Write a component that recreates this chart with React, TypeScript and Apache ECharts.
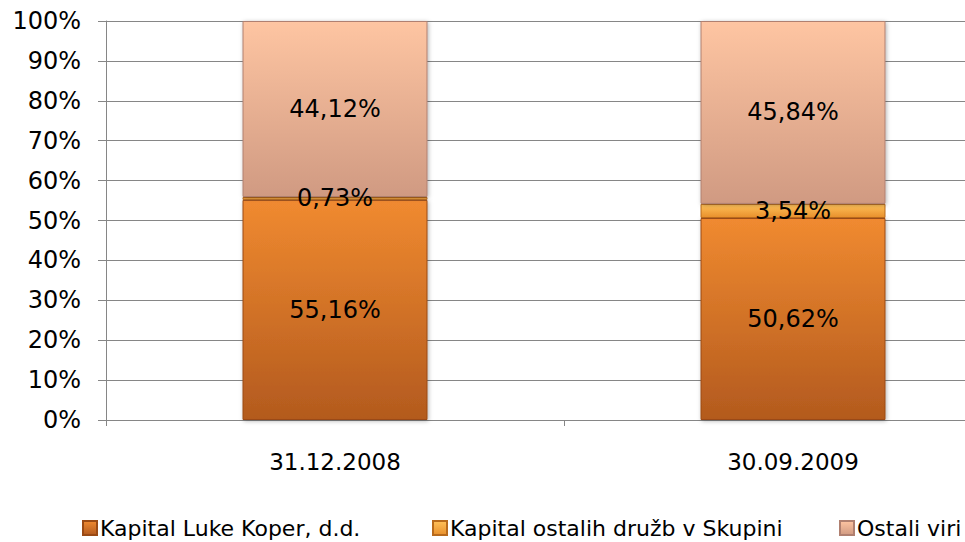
import React, { useEffect, useRef } from "react";
import * as echarts from "echarts";

const categories = ["31.12.2008", "30.09.2009"];
const seriesNames = ["Kapital Luke Koper, d.d.", "Kapital ostalih družb v Skupini", "Ostali viri"];
const lukaKoper = [55.16, 50.62];
const ostaleDruzbe = [0.73, 3.54];
const ostaliViri = [44.12, 45.84];
const yTicks = [0, 10, 20, 30, 40, 50, 60, 70, 80, 90, 100];
const legendLefts = [77, 427, 834];

const FONT = "DejaVu Sans";

function grad(top: string, bottom: string) {
  return new echarts.graphic.LinearGradient(0, 0, 0, 1, [
    { offset: 0, color: top },
    { offset: 1, color: bottom },
  ]);
}

export default function App() {
  const ref = useRef<HTMLDivElement>(null);
  useEffect(() => {
    if (!ref.current) return;
    const chart = echarts.init(ref.current, undefined, { renderer: "svg" });
    const label = {
      show: true,
      position: "inside" as const,
      color: "#000",
      fontFamily: FONT,
      fontSize: 24,
      formatter: (p: any) => p.value.toFixed(2).replace(".", ",") + "%",
    };
    chart.setOption({
      animation: false,
      backgroundColor: "#ffffff",
      grid: { left: 106, top: 21, bottom: 122, right: 0, containLabel: false },
      legend: seriesNames.map((n, i) => ({
        left: legendLefts[i],
        top: 512,
        itemWidth: 14,
        itemHeight: 14,
        icon: "rect",
        textStyle: { fontFamily: FONT, fontSize: 22, color: "#000", padding: [0, 0, 0, -2] },
        data: [n],
      })),
      xAxis: {
        type: "category",
        data: categories,
        axisLine: { lineStyle: { color: "#868686" } },
        axisTick: { show: true, length: 6, lineStyle: { color: "#868686" } },
        axisLabel: { fontFamily: FONT, fontSize: 23, color: "#000", margin: 30 },
      },
      yAxis: {
        type: "value",
        min: 0,
        max: 100,
        interval: 10,
        axisLine: { show: true, lineStyle: { color: "#868686" } },
        axisTick: { show: true, length: 8, lineStyle: { color: "#868686" } },
        splitLine: { lineStyle: { color: "#868686" } },
        axisLabel: {
          fontFamily: FONT,
          fontSize: 24,
          color: "#000",
          margin: 25,
          formatter: (v: number) => (yTicks.includes(v) ? v + "%" : ""),
        },
      },
      series: [
        {
          name: seriesNames[0],
          type: "bar",
          stack: "a",
          barWidth: 185,
          data: lukaKoper,
          label,
          itemStyle: {
            color: grad("#f08a30", "#b35a1e"),
            borderColor: "#9a4a14",
            borderWidth: 1,
            shadowColor: "rgba(0,0,0,0.3)",
            shadowBlur: 4,
            shadowOffsetX: 1,
            shadowOffsetY: 1,
          },
        },
        {
          name: seriesNames[1],
          type: "bar",
          stack: "a",
          barWidth: 185,
          data: ostaleDruzbe,
          label,
          itemStyle: {
            color: grad("#ffc15a", "#e8902c"),
            borderColor: "#b86a1c",
            borderWidth: 1,
          },
        },
        {
          name: seriesNames[2],
          type: "bar",
          stack: "a",
          barWidth: 185,
          data: ostaliViri,
          label,
          itemStyle: {
            color: grad("#fec5a2", "#d09a82"),
            borderColor: "#b08070",
            borderWidth: 1,
            shadowColor: "rgba(0,0,0,0.3)",
            shadowBlur: 4,
            shadowOffsetX: 1,
            shadowOffsetY: 1,
          },
        },
      ],
    });
    return () => chart.dispose();
  }, []);
  return (
    <div
      style={{ position: "fixed", left: 0, top: 0, width: 965, height: 542, overflow: "hidden" }}
    >
      <div ref={ref} style={{ width: 1022, height: 542 }} />
    </div>
  );
}
